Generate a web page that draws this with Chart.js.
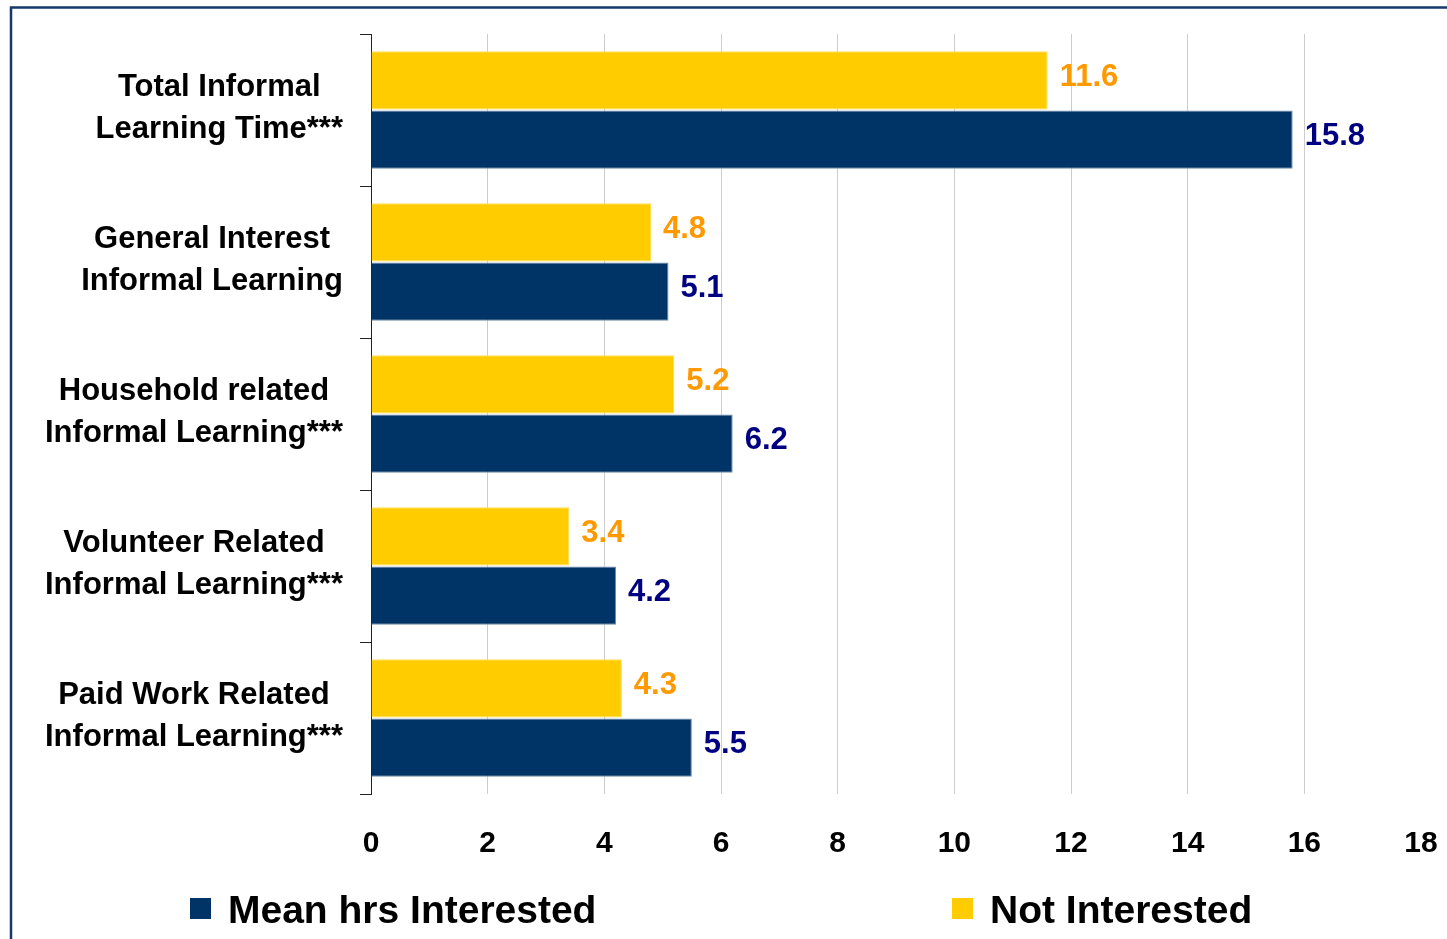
<!DOCTYPE html>
<html>
<head>
<meta charset="utf-8">
<title>Informal Learning Hours</title>
<script src="https://cdn.jsdelivr.net/npm/chart.js@4/dist/chart.umd.min.js"></script>
<style>
  html, body { margin: 0; padding: 0; background: #ffffff; }
  canvas { display: block; }
</style>
</head>
<body>
<canvas id="learningChart" width="1447" height="939"></canvas>
<script>
const categories = [
    ['Total Informal', 'Learning Time***'],
    ['General Interest', 'Informal Learning'],
    ['Household related', 'Informal Learning***'],
    ['Volunteer Related', 'Informal Learning***'],
    ['Paid Work Related', 'Informal Learning***']
];
const notInterested = [11.6, 4.8, 5.2, 3.4, 4.3];
const meanHrsInterested = [15.8, 5.1, 6.2, 4.2, 5.5];
const xMin = 0;
const xMax = 18;
const xStep = 2;

const FONT = "'Liberation Sans', Arial, sans-serif";

// dark frame along the top and left edges
const framePlugin = {
    id: 'frame',
    beforeDraw(chart) {
        const c = chart.ctx;
        c.save();
        c.strokeStyle = '#17396a';
        c.lineWidth = 2.5;
        c.beginPath();
        c.moveTo(11, chart.height + 5);
        c.lineTo(11, 7.5);
        c.lineTo(chart.width + 5, 7.5);
        c.stroke();
        c.restore();
    }
};

// two-line category names, lines centred inside a right-aligned block
const categoryLabels = {
    id: 'categoryLabels',
    afterDraw(chart) {
        const c = chart.ctx;
        const yScale = chart.scales.y;
        c.save();
        c.font = 'bold 31px ' + FONT;
        c.fillStyle = '#000000';
        c.textAlign = 'center';
        c.textBaseline = 'middle';
        const right = 343;
        categories.forEach((lines, i) => {
            const cy = yScale.getPixelForValue(i) - 2;
            const w = Math.max(...lines.map(l => c.measureText(l).width));
            const cx = right - w / 2;
            c.fillText(lines[0], cx, cy - 21);
            c.fillText(lines[1], cx, cy + 21);
        });
        c.restore();
    }
};

// value labels just past the end of each bar
const valueLabels = {
    id: 'valueLabels',
    afterDatasetsDraw(chart) {
        const c = chart.ctx;
        c.save();
        c.font = 'bold 31px ' + FONT;
        c.textAlign = 'left';
        c.textBaseline = 'middle';
        chart.data.datasets.forEach((ds, di) => {
            const meta = chart.getDatasetMeta(di);
            c.fillStyle = ds.valueColor;
            meta.data.forEach((bar, i) => {
                c.fillText(ds.data[i].toFixed(1), bar.x + 12, bar.y - 3);
            });
        });
        c.restore();
    }
};

// legend row under the axis, interested series first
const legendRow = {
    id: 'legendRow',
    afterDraw(chart) {
        const c = chart.ctx;
        const items = [chart.data.datasets[1], chart.data.datasets[0]];
        const xs = [190, 952];
        c.save();
        c.font = 'bold 39px ' + FONT;
        c.textAlign = 'left';
        c.textBaseline = 'alphabetic';
        items.forEach((ds, k) => {
            c.fillStyle = ds.backgroundColor;
            c.fillRect(xs[k], 898, 21, 21);
            c.fillStyle = '#000000';
            c.fillText(ds.label, xs[k] + 38, 923);
        });
        c.restore();
    }
};

const ctx = document.getElementById('learningChart').getContext('2d');

new Chart(ctx, {
    type: 'bar',
    data: {
        labels: categories.map(l => l.join(' ')),
        datasets: [
            {
                label: 'Not Interested',
                data: notInterested,
                backgroundColor: '#ffcc00',
                borderColor: '#ffdd55',
                borderWidth: 1,
                valueColor: '#ff9900',
                categoryPercentage: 0.78,
                barPercentage: 0.98
            },
            {
                label: 'Mean hrs Interested',
                data: meanHrsInterested,
                backgroundColor: '#003366',
                borderColor: '#6f8cab',
                borderWidth: 1,
                valueColor: '#000080',
                categoryPercentage: 0.78,
                barPercentage: 0.98
            }
        ]
    },
    options: {
        indexAxis: 'y',
        responsive: false,
        animation: false,
        layout: {
            padding: { left: 360, right: 26, top: 34, bottom: 45 }
        },
        plugins: {
            legend: { display: false },
            tooltip: { enabled: false }
        },
        scales: {
            x: {
                min: xMin,
                max: xMax,
                ticks: {
                    stepSize: xStep,
                    color: '#000000',
                    padding: 32,
                    maxRotation: 0,
                    font: { family: FONT, size: 30, weight: 'bold' }
                },
                grid: {
                    // no line at the far right end of the axis
                    color: (c) => (c.tick && c.tick.value === xMax) ? 'rgba(0,0,0,0)' : '#cccccc',
                    lineWidth: 1,
                    drawTicks: false
                },
                border: { display: false },
                afterFit(scale) {
                    // the "18" label fits in the right margin already
                    scale.paddingLeft = 0;
                    scale.paddingRight = 0;
                }
            },
            y: {
                ticks: { display: false },
                grid: {
                    drawOnChartArea: false,
                    drawTicks: true,
                    tickLength: 11,
                    color: '#222222',
                    offset: true
                },
                border: { color: '#222222', width: 1 }
            }
        }
    },
    plugins: [framePlugin, categoryLabels, valueLabels, legendRow]
});
</script>
</body>
</html>
